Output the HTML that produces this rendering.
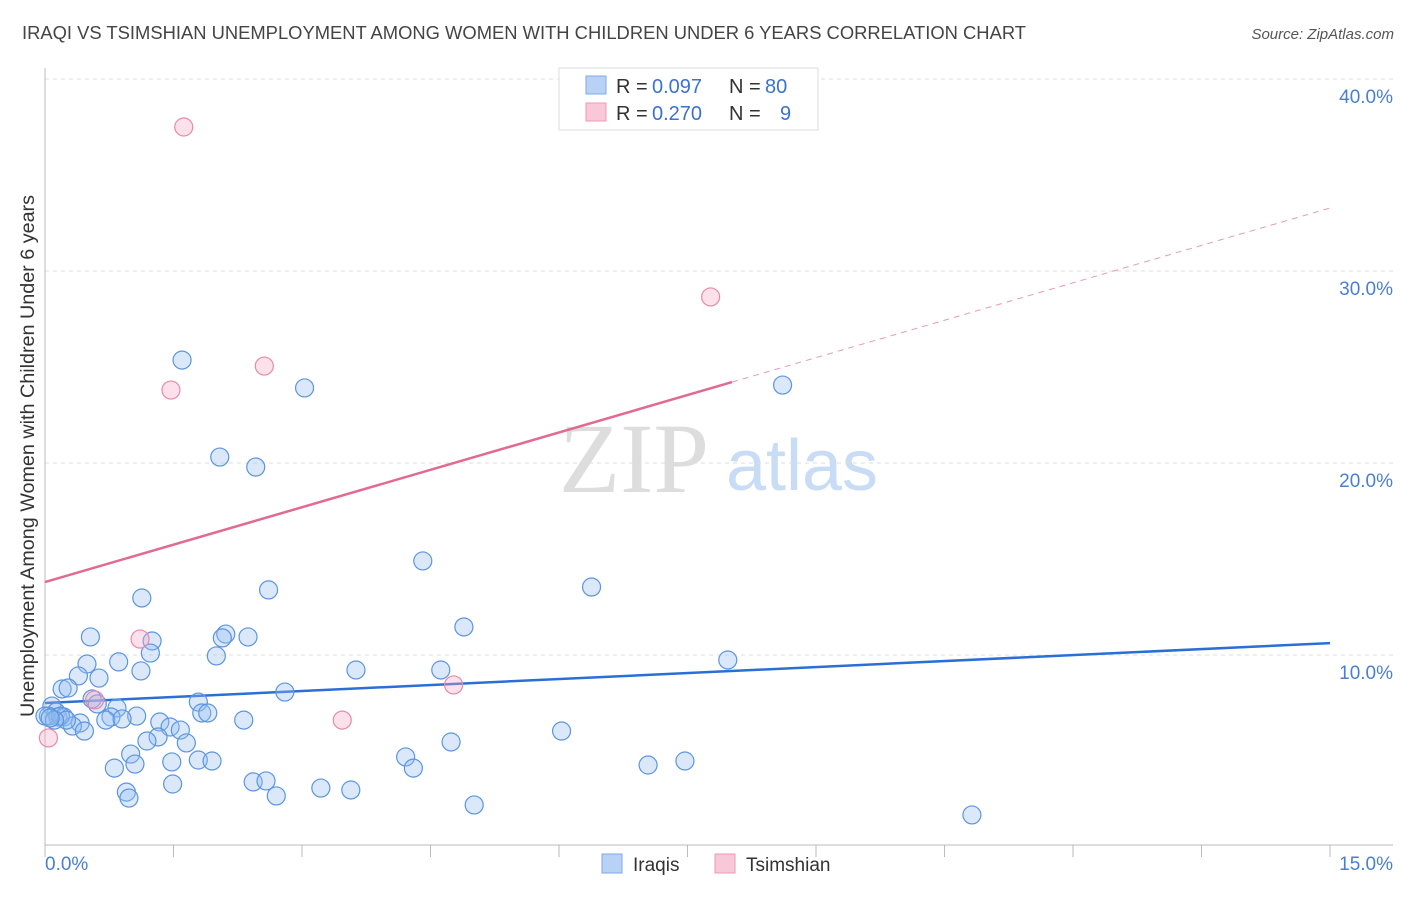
<!DOCTYPE html>
<html><head><meta charset="utf-8"><style>
body{margin:0;background:#fff;font-family:"Liberation Sans",sans-serif}
svg text{font-family:"Liberation Sans",sans-serif}
</style></head><body>
<svg id="chart" width="1406" height="892" xmlns="http://www.w3.org/2000/svg">
<text x="22" y="39" font-size="18" fill="#444" textLength="1004" lengthAdjust="spacingAndGlyphs">IRAQI VS TSIMSHIAN UNEMPLOYMENT AMONG WOMEN WITH CHILDREN UNDER 6 YEARS CORRELATION CHART</text>
<text x="1394" y="39" font-size="15" fill="#555" text-anchor="end" font-style="italic">Source: ZipAtlas.com</text>
<g>
<text x="634" y="492" font-size="100" fill="#ddd" text-anchor="middle" style="font-family:'Liberation Serif',serif">ZIP</text>
<text x="802" y="490" font-size="72" fill="#c9dcf5" text-anchor="middle">atlas</text>
</g>
<g id="grid"></g>
<g id="axes"></g>
<g id="lines"></g>
<g id="pts"></g>
<text transform="translate(34,456) rotate(-90)" font-size="19" fill="#333" text-anchor="middle" textLength="522" lengthAdjust="spacingAndGlyphs">Unemployment Among Women with Children Under 6 years</text>
<text x="45" y="870" font-size="19" fill="#4a7fd0">0.0%</text>
<text x="1393" y="870" font-size="19" fill="#4a7fd0" text-anchor="end">15.0%</text>
<g>
<rect x="559" y="68" width="259" height="62" fill="#fff" stroke="#ddd"/>
<rect x="586" y="76" width="20" height="18" fill="#b8d2f6" stroke="#7ea9e6"/>
<rect x="586" y="103" width="20" height="18" fill="#f9c8d8" stroke="#ee9ab5"/>
<text x="616" y="93" font-size="20" fill="#333">R =</text>
<text x="652" y="93" font-size="20" fill="#3a72d0">0.097</text>
<text x="729" y="93" font-size="20" fill="#333">N =</text>
<text x="765" y="93" font-size="20" fill="#3a72d0">80</text>
<text x="616" y="120" font-size="20" fill="#333">R =</text>
<text x="652" y="120" font-size="20" fill="#3a72d0">0.270</text>
<text x="729" y="120" font-size="20" fill="#333">N =</text>
<text x="780" y="120" font-size="20" fill="#3a72d0">9</text>
</g>
<g>
<rect x="602" y="854" width="20" height="19" fill="#b8d2f6" stroke="#7ea9e6"/>
<text x="633" y="871" font-size="19" fill="#333">Iraqis</text>
<rect x="715" y="854" width="20" height="19" fill="#f9c8d8" stroke="#ee9ab5"/>
<text x="746" y="871" font-size="19" fill="#333">Tsimshian</text>
</g>
</svg>
<script>
const yTicks=[10,20,30,40];
const yTickLabels=["10.0%","20.0%","30.0%","40.0%"];
const xTicks=[0,1.5,3,4.5,6,7.5,9,10.5,12,13.5,15];
const iraqiX=[1.60,3.03,8.61,2.04,2.46,4.41,6.38,2.61,1.13,4.89,2.11,0.53,1.25,2.37,2.07,1.23,2.00,7.97,0.49,0.86,3.63,4.62,1.12,0.39,0.63,0.20,0.27,2.80,0.55,1.79,0.84,0.61,1.83,1.90,0.08,0.13,0.04,0.15,0.22,1.07,0.77,0.71,0.90,2.32,1.34,1.46,1.58,0.41,0.32,0.46,6.03,1.32,1.19,1.65,4.74,1.00,4.21,1.79,1.48,1.95,0.81,1.05,7.04,7.47,4.30,2.43,2.58,1.49,0.95,0.98,2.70,3.22,3.57,5.01,10.82,0.0,0.18,0.25,0.11,0.06];
const iraqiY=[25.36,23.91,24.06,20.31,19.79,14.90,13.54,13.39,12.97,11.46,11.09,10.94,10.73,10.94,10.89,10.10,9.95,9.74,9.53,9.64,9.22,9.22,9.17,8.91,8.80,8.23,8.28,8.07,7.71,7.55,7.24,7.45,6.98,6.98,7.34,7.03,6.82,6.77,6.77,6.82,6.77,6.61,6.67,6.61,6.51,6.25,6.09,6.46,6.30,6.04,6.04,5.73,5.52,5.42,5.47,4.84,4.69,4.53,4.43,4.48,4.11,4.32,4.27,4.48,4.11,3.39,3.44,3.28,2.86,2.55,2.66,3.07,2.97,2.19,1.67,6.82,6.82,6.61,6.61,6.72];
const tsimX=[1.62,7.77,2.56,1.47,1.11,4.77,3.47,0.58,0.04];
const tsimY=[37.5,28.65,25.05,23.80,10.83,8.44,6.61,7.66,5.68];
const iraqiTrend=[7.5,10.62];
const tsimTrend=[13.8,33.28];
const tsimSolidEnd=8.02;
const NS="http://www.w3.org/2000/svg";
const X=v=>45+v*(1285/15);
const Y=v=>847-v*19.2;
function mk(parent,tag,attrs){const e=document.createElementNS(NS,tag);for(const k in attrs)e.setAttribute(k,attrs[k]);document.getElementById(parent).appendChild(e);return e;}
yTicks.forEach((t,i)=>{
 const l=mk('grid','line',{x1:45,x2:1393,y1:Y(t),y2:Y(t),stroke:'#ddd','stroke-dasharray':'4,4'});
 
 
 const tx=mk('grid','text',{x:1393,y:Y(t)+24,'font-size':19,fill:'#4a7fd0','text-anchor':'end'});
 tx.textContent=yTickLabels[i];
 
 
});
const ax=mk('axes','path',{d:`M45,68V845H1393`,stroke:'#bbb',fill:'none'});


xTicks.forEach(t=>{
 const l=mk('axes','line',{x1:X(t),x2:X(t),y1:845,y2:857,stroke:'#bbb'});
 
 
});
const tl=v=>tsimTrend[0]+(tsimTrend[1]-tsimTrend[0])*v/15;
const bl=mk('lines','line',{x1:X(0),y1:Y(iraqiTrend[0]),x2:X(15),y2:Y(iraqiTrend[1]),stroke:'#2a6fd6','stroke-width':2.5});


const pl=mk('lines','line',{x1:X(0),y1:Y(tl(0)),x2:X(tsimSolidEnd),y2:Y(tl(tsimSolidEnd)),stroke:'#e26a92','stroke-width':2.5});


const pd=mk('lines','line',{x1:X(tsimSolidEnd),y1:Y(tl(tsimSolidEnd)),x2:X(15),y2:Y(tl(15)),stroke:'#e89ab4','stroke-width':1,'stroke-dasharray':'6,5'});


iraqiX.forEach((v,i)=>{
 const c=mk('pts','circle',{cx:X(v),cy:Y(iraqiY[i]),r:9,fill:'rgba(150,189,240,0.35)',stroke:'#5b95e0','stroke-width':1.2});
 
 
});
tsimX.forEach((v,i)=>{
 const c=mk('pts','circle',{cx:X(v),cy:Y(tsimY[i]),r:9,fill:'rgba(246,170,196,0.35)',stroke:'#e88aaa','stroke-width':1.2});
 
 
});
</script>
</body></html>
